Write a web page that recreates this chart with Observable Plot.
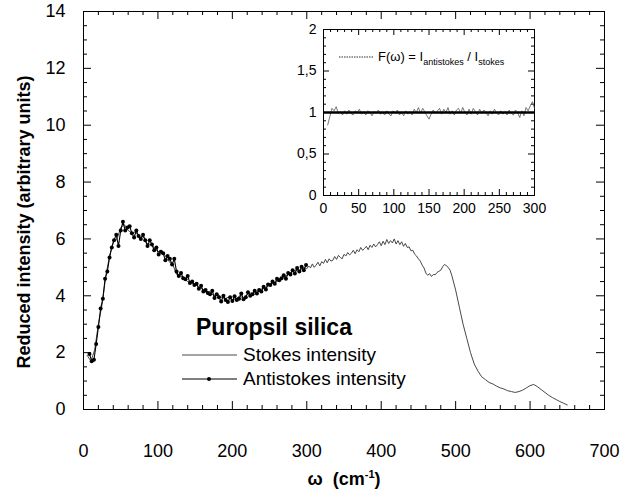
<!DOCTYPE html>
<html><head><meta charset="utf-8">
<script src="https://cdn.jsdelivr.net/npm/d3@7"></script>
<script src="https://cdn.jsdelivr.net/npm/@observablehq/plot@0.6"></script>
<style>
body{margin:0;background:#fff;font-family:"Liberation Sans",Arial,sans-serif;color:#000;}
#wrap{position:relative;width:620px;height:490px;overflow:hidden;}
#wrap svg{position:absolute;}
.t{position:absolute;white-space:nowrap;line-height:1;}
</style></head><body><div id="wrap"></div>
<script>
// ---- data ----
const stokesW = [5,10,15,20,25,30,35,40,45,50,55,60,65,70,75,80,85,90,95,100,105,110,115,120,125,130,135,140,145,150,155,160,165,170,175,180,185,190,195,200,205,210,215,220,225,230,235,240,245,250,255,260,265,270,275,280,285,290,295,
300,302.5,305,307.5,310,312.5,315,317.5,320,322.5,325,327.5,330,332.5,335,337.5,340,342.5,345,347.5,350,352.5,355,357.5,360,362.5,365,367.5,370,372.5,375,377.5,380,382.5,385,387.5,390,392.5,395,397.5,400,402.5,405,407.5,410,412.5,415,417.5,420,422.5,425,427.5,430,432.5,435,437.5,440,442.5,445,447.5,450,452.5,455,457.5,460,462.5,465,467.5,470,472.5,475,477.5,480,482.5,485,487.5,490,492.5,495,497.5,500,
505,510,515,520,525,530,535,540,545,550,555,560,565,570,575,580,585,590,595,600,605,610,615,620,625,630,635,640,645,650];
const stokesI = [1.9,1.7,2.1,3.0,3.7,4.7,5.4,5.9,6.0,6.4,6.5,6.3,6.2,6.25,6.05,6.1,5.85,5.8,5.7,5.55,5.6,5.4,5.2,5.1,4.75,4.7,4.6,4.5,4.45,4.4,4.3,4.25,4.1,4.15,4.0,4.05,3.95,3.9,3.95,3.85,3.9,4.0,3.9,4.05,4.1,4.05,4.2,4.25,4.3,4.4,4.45,4.5,4.6,4.65,4.75,4.85,4.9,4.85,5.0,
4.95,5.05,4.98,5.12,5.0,5.08,5.18,5.05,5.2,5.14,5.28,5.16,5.3,5.22,5.25,5.38,5.28,5.42,5.35,5.3,5.46,5.4,5.52,5.44,5.5,5.6,5.48,5.62,5.55,5.7,5.6,5.66,5.74,5.62,5.78,5.7,5.82,5.72,5.8,5.9,5.76,5.92,5.8,5.98,5.84,5.94,5.86,6.0,5.82,5.94,5.8,5.9,5.74,5.84,5.7,5.72,5.58,5.6,5.46,5.4,5.3,5.22,5.08,4.98,4.8,4.72,4.78,4.68,4.75,4.74,4.82,4.86,4.9,5.02,5.1,5.06,5.0,4.9,4.7,4.45,4.2,
3.6,3.0,2.5,2.0,1.6,1.35,1.15,1.05,0.95,0.9,0.82,0.76,0.72,0.66,0.63,0.6,0.63,0.68,0.76,0.84,0.88,0.8,0.7,0.6,0.5,0.42,0.35,0.28,0.22,0.16];
const antiW = [8,11,14,17,20,23,26,29,32,35,38,41,44,47,50,53,56,59,62,65,68,71,74,77,80,83,86,89,92,95,98,101,104,107,110,113,116,119,122,125,128,131,134,137,140,143,146,149,152,155,158,161,164,167,170,173,176,179,182,185,188,191,194,197,200,203,206,209,212,215,218,221,224,227,230,233,236,239,242,245,248,251,254,257,260,263,266,269,272,275,278,281,284,287,290,293,296,299];
const antiI = [1.95,1.7,1.75,2.3,2.9,3.55,3.9,4.6,4.85,5.35,5.7,5.95,6.15,5.75,6.3,6.6,6.3,6.4,6.45,6.2,6.05,6.3,6.1,6.0,6.15,5.95,5.75,5.95,5.8,5.6,5.7,5.45,5.55,5.5,5.25,5.4,5.3,5.1,5.3,4.85,4.7,4.8,4.62,4.58,4.7,4.45,4.5,4.38,4.42,4.25,4.35,4.15,4.2,4.1,4.05,4.18,3.92,4.05,3.95,3.8,4.0,3.85,3.78,3.95,3.82,3.98,3.85,3.9,4.08,3.88,3.95,4.12,4.0,4.05,4.18,4.08,4.2,4.15,4.32,4.22,4.4,4.38,4.5,4.42,4.6,4.55,4.62,4.72,4.6,4.8,4.75,4.9,4.78,4.98,4.85,5.02,4.9,5.08];
const ratioW = [6,9,12,15,18,21,24,27,30,33,36,39,42,45,48,51,54,57,60,63,66,69,72,75,78,81,84,87,90,93,96,99,102,105,108,111,114,117,120,123,126,129,132,135,138,141,144,147,150,153,156,159,162,165,168,171,174,177,180,183,186,189,192,195,198,201,204,207,210,213,216,219,222,225,228,231,234,237,240,243,246,249,252,255,258,261,264,267,270,273,276,279,282,285,288,291,294,297,300];
const ratioF = [0.85,0.95,1.05,1.02,1.07,0.99,1.01,0.97,1.02,0.98,1.03,0.99,0.97,1.02,1.0,1.04,0.98,1.01,0.97,1.02,1.0,0.96,1.01,0.99,1.03,0.98,1.0,0.97,1.02,0.98,0.96,1.02,0.99,1.03,0.97,1.0,0.96,1.02,0.98,1.01,0.97,1.04,1.0,1.06,0.99,1.05,1.01,0.96,0.92,0.98,1.03,0.99,1.02,1.05,0.98,1.04,1.0,1.06,0.98,1.02,0.97,1.03,1.05,0.99,1.06,1.0,0.97,1.04,0.98,1.05,1.01,0.97,1.04,0.99,1.03,1.0,0.96,1.02,0.98,1.04,1.0,0.97,1.02,0.98,1.01,0.97,1.03,0.99,0.97,1.03,1.0,0.94,1.02,0.96,1.06,1.02,1.08,1.13,1.05];
const refLine = [1];
const xTicks = [0,100,200,300,400,500,600,700];
const yTicks = [0,2,4,6,8,10,12,14];
const insetXTicks = [0,50,100,150,200,250,300];
const insetYTicks = [0,0.5,1,1.5,2];

const stokes = stokesW.map((w,i)=>({w, v: stokesI[i]}));
const anti = antiW.map((w,i)=>({w, v: antiI[i]}));
const ratio = ratioW.map((w,i)=>({w, v: ratioF[i]}));
const xMinor = d3.range(0, 701, 20).filter(d => d % 100);
const yMinor = d3.range(0, 14.01, 0.5).filter(d => d % 2);
const ixMinor = d3.range(0, 301, 10).filter(d => d % 50);
const iyMinor = d3.range(0, 2.001, 0.1).map(d=>+d.toFixed(1)).filter(d => Math.round(d*10) % 5);

const wrap = document.getElementById("wrap");
const FONT = "Liberation Sans, Arial, sans-serif";

// ---- main chart ----
const mL=83, mR=16, mT=11, mB=81, W=620, H=490;
const pw = W-mL-mR, ph = H-mT-mB;
function boxTicks(pwid, phgt, xs, xsMin, ys, ysMin, big, small) {
  return [
    Plot.tickX(xs, {x: d=>d, insetTop: phgt-big, stroke:"#000"}),
    Plot.tickX(xs, {x: d=>d, insetBottom: phgt-big, stroke:"#000"}),
    Plot.tickX(xsMin, {x: d=>d, insetTop: phgt-small, stroke:"#000"}),
    Plot.tickX(xsMin, {x: d=>d, insetBottom: phgt-small, stroke:"#000"}),
    Plot.tickY(ys, {y: d=>d, insetRight: pwid-big, stroke:"#000"}),
    Plot.tickY(ys, {y: d=>d, insetLeft: pwid-big, stroke:"#000"}),
    Plot.tickY(ysMin, {y: d=>d, insetRight: pwid-small, stroke:"#000"}),
    Plot.tickY(ysMin, {y: d=>d, insetLeft: pwid-small, stroke:"#000"})
  ];
}
const main = Plot.plot({
  width: W, height: H, marginLeft: mL, marginRight: mR, marginTop: mT, marginBottom: mB,
  style: {fontFamily: FONT, fontSize: "18px", color: "#000", background: "transparent", overflow: "visible"},
  x: {domain: [0,700]},
  y: {domain: [0,14]},
  marks: [
    Plot.axisX({anchor:"bottom", ticks: xTicks, tickSize: 0, tickPadding: 35, label: null, fontSize: 18}),
    Plot.axisY({anchor:"left", ticks: yTicks, tickSize: 0, tickPadding: 18, label: null, fontSize: 18}),
    ...boxTicks(pw, ph, xTicks, xMinor, yTicks, yMinor, 8, 4),
    Plot.frame({stroke:"#000"}),
    Plot.line(stokes, {x:"w", y:"v", stroke:"#333", strokeWidth: 0.9}),
    Plot.line(anti, {x:"w", y:"v", stroke:"#000", strokeWidth: 1.1}),
    Plot.dot(anti, {x:"w", y:"v", r: 2, fill:"#000", stroke: null})
  ]
});
main.style.left = "0px"; main.style.top = "0px";
wrap.appendChild(main);

// ---- inset ----
const iL=30, iR=5, iT=5, iB=25, iW=246, iH=196;
const ipw = iW-iL-iR, iph = iH-iT-iB;
const inset = Plot.plot({
  width: iW, height: iH, marginLeft: iL, marginRight: iR, marginTop: iT, marginBottom: iB,
  style: {fontFamily: FONT, fontSize: "14px", color: "#000", background: "transparent", overflow: "visible"},
  x: {domain: [0,300]},
  y: {domain: [0,2]},
  marks: [
    Plot.axisX({anchor:"bottom", ticks: insetXTicks, tickSize: 0, tickPadding: 8, label: null, fontSize: 14}),
    Plot.axisY({anchor:"left", ticks: insetYTicks, tickSize: 0, tickPadding: 7, label: null, fontSize: 14, tickFormat: d => String(d).replace(".", ",")}),
    ...boxTicks(ipw, iph, insetXTicks, ixMinor, insetYTicks, iyMinor, 6, 3),
    Plot.frame({stroke:"#000"}),
    Plot.line(ratio, {x:"w", y:"v", stroke:"#555", strokeWidth: 0.8}),
    Plot.ruleY(refLine, {stroke:"#000", strokeWidth: 2.6})
  ]
});
inset.style.left = (323-iL)+"px"; inset.style.top = (29-iT)+"px";
wrap.appendChild(inset);

// ---- text overlays ----
function addHTML(html){ const d=document.createElement("div"); d.innerHTML=html; wrap.appendChild(d.firstElementChild); }
addHTML(`<div class="t" style="left:24px;top:222px;transform:translate(-50%,-50%) rotate(-90deg);font-weight:bold;font-size:18px;">Reduced intensity (arbitrary units)</div>`);
addHTML(`<div class="t" style="left:344px;top:478px;transform:translate(-50%,-50%);font-weight:bold;font-size:18px;">ω&nbsp;&nbsp;(cm<sup style="font-size:11px;vertical-align:7px;">-1</sup>)</div>`);
addHTML(`<div class="t" style="left:196px;top:316px;font-weight:bold;font-size:23px;">Puropsil silica</div>`);
addHTML(`<div class="t" style="left:243px;top:345px;font-size:19px;">Stokes intensity</div>`);
addHTML(`<div class="t" style="left:243px;top:369px;font-size:19px;">Antistokes intensity</div>`);
addHTML(`<svg style="left:180px;top:345px;" width="60" height="45"><line x1="2" x2="57" y1="10" y2="10" stroke="#333" stroke-width="0.9"/><line x1="2" x2="57" y1="34" y2="34" stroke="#000" stroke-width="1.1"/><circle cx="29" cy="34" r="2" fill="#000"/></svg>`);
addHTML(`<svg style="left:338px;top:52px;" width="40" height="10"><line x1="1" x2="35" y1="5" y2="5" stroke="#333" stroke-width="1" stroke-dasharray="1.5,1"/></svg>`);
addHTML(`<div class="t" style="left:378px;top:50px;font-size:13px;">F(ω) = I<sub style="font-size:9px;">antistokes</sub> / I<sub style="font-size:9px;">stokes</sub></div>`);
</script></body></html>
